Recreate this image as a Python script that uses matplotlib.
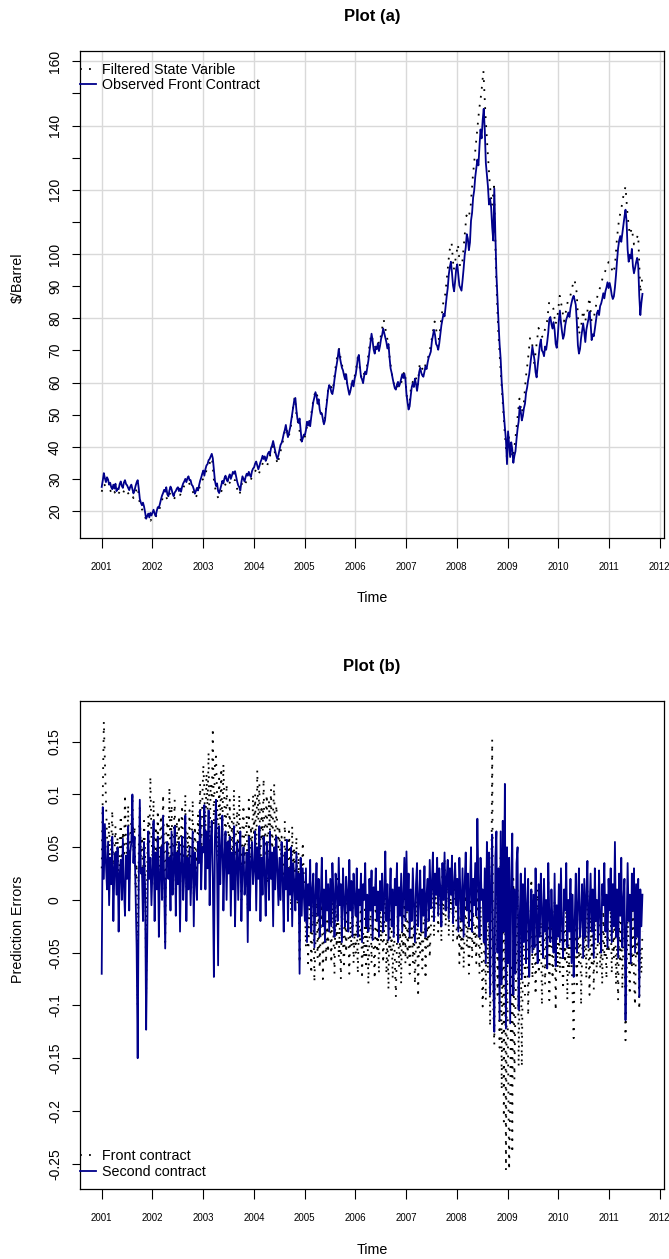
import numpy as np
import matplotlib
matplotlib.use("Agg")
import matplotlib.pyplot as plt

plt.rcParams['font.family'] = ['Liberation Sans', 'DejaVu Sans']

# plot (a): weekly observed front contract, $/barrel, Jan 2001 - Aug 2011
observed_front = [
    27.5, 29.5, 31.8, 30.2, 29.0, 30.5, 29.8, 28.2, 28.8, 27.4, 26.8, 28.2, 27.0, 28.5, 26.2, 27.0, 26.8, 28.4, 29.2, 27.8, 27.2, 28.9, 29.6, 28.4,
    28.0, 27.2, 26.5, 27.6, 28.2, 26.9, 25.5, 26.4, 27.8, 28.9, 29.6, 27.0, 23.8, 22.6, 21.8, 22.6, 21.4, 19.6, 17.6, 18.4, 19.2, 18.0, 19.4, 18.6,
    19.5, 20.4, 19.2, 18.4, 20.0, 21.2, 21.0, 22.2, 23.6, 24.8, 25.6, 26.6, 26.0, 27.4, 25.2, 24.6, 26.4, 27.6, 26.8, 25.4, 24.6, 25.8, 26.2, 27.0,
    27.4, 26.2, 27.0, 26.0, 27.6, 28.6, 29.2, 30.0, 29.0, 30.2, 30.8, 29.6, 29.6, 28.2, 27.8, 26.8, 25.4, 26.2, 27.2, 26.4, 28.0, 29.4, 30.4, 31.6,
    32.6, 31.0, 33.0, 34.2, 34.6, 35.8, 36.2, 37.0, 37.8, 36.4, 33.0, 29.4, 27.8, 28.6, 26.2, 25.6, 26.8, 28.0, 29.4, 28.6, 30.2, 31.0, 29.8, 29.2,
    30.6, 31.4, 30.0, 31.0, 32.2, 31.6, 32.4, 30.8, 29.2, 28.0, 27.4, 26.4, 29.0, 30.8, 30.0, 29.2, 30.6, 31.6, 31.0, 32.2, 31.2, 30.6, 32.4, 33.2,
    33.6, 34.8, 35.4, 34.2, 33.0, 34.0, 35.2, 36.0, 37.2, 36.2, 37.0, 35.6, 36.4, 37.8, 38.4, 37.6, 39.6, 40.4, 41.8, 40.2, 38.6, 37.2, 36.2, 37.4,
    39.0, 40.6, 41.2, 42.4, 44.0, 45.2, 46.8, 44.6, 43.0, 44.4, 45.8, 48.0, 50.2, 52.6, 54.6, 55.2, 51.4, 48.6, 47.4, 48.8, 45.2, 41.6, 42.6, 43.8,
    43.6, 45.2, 47.8, 46.6, 48.0, 46.4, 49.2, 51.6, 54.0, 55.4, 57.0, 55.8, 53.4, 54.8, 51.6, 50.2, 50.4, 48.6, 47.0, 48.2, 51.6, 54.4, 57.6, 59.2,
    58.6, 57.0, 56.4, 58.2, 61.0, 63.4, 65.4, 67.6, 70.4, 68.0, 66.2, 64.6, 63.8, 62.2, 61.0, 62.6, 59.6, 57.8, 56.2, 57.4, 59.0, 60.6, 58.8, 61.2,
    62.4, 64.8, 67.6, 68.6, 65.0, 61.8, 61.0, 59.8, 62.0, 63.4, 62.6, 64.6, 66.8, 69.6, 72.4, 75.2, 73.0, 70.2, 69.0, 71.2, 70.4, 72.2, 69.8, 71.4,
    73.6, 74.8, 76.8, 75.4, 74.0, 72.6, 70.6, 72.0, 67.8, 64.4, 63.0, 61.2, 59.6, 58.2, 57.8, 59.4, 60.2, 58.8, 59.8, 61.2, 62.6, 61.4, 62.8, 61.0,
    56.4, 53.8, 51.6, 52.6, 55.8, 58.6, 59.8, 58.6, 61.2, 59.6, 57.4, 59.8, 63.2, 64.6, 63.0, 62.2, 61.8, 63.4, 65.0, 64.2, 66.2, 67.8, 68.6, 69.6,
    72.8, 74.6, 76.4, 74.8, 72.0, 71.4, 70.2, 72.2, 75.0, 77.8, 79.6, 81.4, 80.6, 83.8, 86.8, 89.4, 93.6, 96.0, 97.6, 94.2, 90.2, 88.4, 91.6, 95.4,
    96.8, 93.6, 90.2, 89.4, 88.6, 91.8, 95.4, 99.6, 102.0, 106.2, 104.8, 101.2, 103.6, 110.4, 112.8, 117.6, 119.8, 124.0, 126.6, 129.4, 127.6, 133.6, 138.8, 136.0,
    141.6, 145.2, 138.6, 128.4, 124.6, 121.0, 115.4, 117.2, 114.6, 108.4, 104.2, 120.4, 106.0, 93.8, 86.2, 78.6, 72.0, 67.4, 60.2, 55.6, 50.4, 46.0, 42.2, 34.6,
    44.8, 40.6, 36.8, 41.4, 39.2, 35.0, 37.2, 38.6, 42.4, 45.6, 47.8, 52.6, 51.0, 48.2, 49.6, 52.0, 53.4, 56.8, 58.4, 60.8, 62.6, 65.4, 68.4, 71.2,
    69.2, 67.0, 63.2, 61.6, 65.2, 68.4, 71.6, 73.4, 70.0, 69.4, 68.2, 71.2, 70.2, 72.6, 75.6, 79.8, 80.4, 78.2, 76.8, 78.8, 76.4, 72.0, 70.8, 74.4,
    79.6, 82.4, 78.6, 75.8, 73.6, 74.8, 77.8, 79.6, 80.6, 81.8, 80.4, 83.2, 84.8, 86.2, 87.0, 85.6, 84.2, 78.8, 71.6, 69.0, 70.4, 73.8, 76.2, 78.4,
    75.8, 72.6, 76.4, 78.2, 79.8, 82.0, 78.6, 73.2, 75.0, 74.4, 76.6, 79.2, 81.6, 82.4, 81.0, 83.8, 84.6, 86.0, 87.8, 86.2, 88.4, 89.6, 91.2, 89.4,
    91.0, 89.4, 87.2, 86.0, 86.8, 89.6, 93.4, 98.0, 101.8, 104.2, 105.6, 103.8, 106.4, 109.2, 111.6, 113.8,
    110.2, 101.4, 97.6, 99.8, 98.6, 101.6, 96.2, 94.0, 95.6, 97.4, 98.8, 96.6, 87.0, 81.0, 84.8, 87.6,
]
# plot (a): half-monthly filtered state, $/barrel
filtered_state = [
    26.0, 28.5, 27.5, 27.5, 26.5, 25.0, 26.0, 24.5, 25.5, 26.5, 25.5, 27.0, 26.0, 25.0, 25.5, 24.0, 26.0, 27.5, 22.0, 20.5, 19.5, 17.0, 17.5, 17.0,
    18.0, 17.5, 19.0, 20.0, 22.5, 24.5, 25.0, 23.5, 25.5, 24.5, 23.5, 25.0, 25.5, 25.0, 26.5, 28.0, 28.0, 29.0, 27.5, 26.0, 24.0, 25.0, 27.0, 29.5,
    30.0, 32.0, 33.5, 35.0, 36.5, 29.0, 25.5, 24.0, 25.5, 27.0, 28.5, 27.5, 29.0, 28.5, 30.0, 29.5, 26.5, 25.0, 28.5, 27.5, 29.0, 29.5, 29.0, 31.0,
    32.0, 33.0, 31.5, 33.0, 35.0, 34.0, 34.0, 36.5, 38.5, 40.5, 37.0, 34.5, 38.0, 40.0, 44.0, 46.0, 43.0, 45.0, 51.0, 55.5, 49.0, 46.5, 41.5, 42.0,
    43.5, 47.0, 47.0, 51.0, 55.5, 57.5, 55.0, 51.5, 49.5, 47.0, 53.5, 59.0, 59.0, 57.5, 63.5, 68.0, 70.5, 66.0, 64.0, 62.0, 58.5, 57.0, 60.0, 61.0,
    64.5, 69.0, 62.5, 61.0, 63.5, 64.5, 70.0, 75.0, 73.0, 71.0, 73.0, 72.0, 76.0, 79.5, 76.0, 72.5, 66.5, 62.0, 59.0, 58.0, 59.5, 59.0, 62.5, 63.5,
    54.5, 52.5, 59.5, 60.5, 62.0, 59.0, 66.0, 64.5, 63.5, 66.5, 68.0, 71.0, 75.0, 79.0, 75.5, 73.5, 79.0, 84.5, 87.5, 94.0, 101.0, 103.5, 95.0, 99.0,
    103.0, 96.0, 97.0, 104.5, 112.0, 111.0, 115.0, 124.0, 131.0, 138.0, 145.0, 150.0, 157.0, 143.0, 132.0, 122.0, 115.0, 121.0, 93.0, 76.0, 65.0, 55.0, 45.0, 37.0,
    43.0, 39.0, 36.5, 42.0, 48.5, 55.0, 50.5, 53.0, 61.5, 67.0, 74.0, 72.0, 66.0, 71.5, 77.0, 75.0, 74.0, 76.5, 79.0, 85.0, 84.5, 83.0, 78.0, 81.0,
    87.0, 83.5, 79.0, 82.5, 86.0, 87.0, 90.0, 92.0, 88.0, 75.0, 77.0, 82.5, 79.0, 82.0, 86.5, 79.0, 80.0, 83.5, 88.0, 89.5, 92.0, 94.0, 95.5, 97.5,
    97.0, 94.0, 96.0, 105.0, 111.0, 114.0, 118.0, 121.0, 112.0, 106.0, 108.0, 103.0, 104.5, 106.0, 88.0, 93.0,
]

# plot (b): weekly prediction errors, in thousandths
front_err_milli = [
    30, 100, 169, 130, 95, 60, 40, 75, 20, 55, 85, 10, 45, 70, 30, 60, 5, 50, 80, 25, 65, 40, 100, 55,
    30, 90, 20, 60, 75, 100, 45, 70, 15, 35, -100, 50, 90, 40, 60, 10, 75, 45, -90, 30, 80, 55, 117, 60,
    40, 95, 15, 70, 35, 85, 5, 60, 80, 30, 100, 45, -40, 65, 75, 40, 107, 20, 90, 35, 60, 95, 10, 75,
    35, 80, 0, 60, 90, 25, 50, 100, 10, 65, 40, 85, 20, 55, 95, 5, 70, 45, 30, 80, 60, 110, 35, 90,
    128, 105, 60, 120, 85, 140, 50, 110, 95, 163, 70, 130, 136, 100, 40, 115, 75, 125, 60, 129, 90, 45, 110, 80,
    50, 95, 20, 75, 40, 105, 10, 65, 85, 30, 100, 55, 0, 70, 90, 35, 60, 80, -10, 95, 25, 70, 45, 100,
    60, 100, 30, 123, 75, 110, 20, 90, 55, 115, 40, 80, 100, 15, 95, 65, 105, 35, 85, 110, 25, 90, 70, 50,
    70, 20, 60, 35, -5, 75, 30, 55, 0, 65, 40, -10, 70, 25, 50, 15, 60, -5, 45, -60, 30, 10, 55, 20,
    0, -45, 15, -60, -20, 10, -70, -30, -5, -78, -40, 20, -55, -15, -65, -25, 5, -75, -35, -10, -60, -20, -50, 0,
    -15, -60, 15, -35, -70, -5, -45, 20, -55, -25, -75, 0, -40, -65, -10, -50, 10, -30, -70, -20, -45, 5, -60, -30,
    -50, -10, -70, -25, -40, 10, -75, -30, -55, -5, -65, -20, -80, -35, 0, -60, -15, -45, -75, 15, -50, -25, -70, -10,
    -40, -15, -60, -25, 20, -70, -35, -85, -10, -50, -30, -75, -20, -55, -92, -40, -5, -65, -30, -80, -15, -50, 10, -60,
    15, -55, -20, -70, -35, -10, -60, -25, -80, -40, 0, -92, -30, -50, -15, -65, -35, 5, -75, -20, -45, -5, -55, -25,
    -20, 25, -35, 10, -5, 35, -30, 15, 0, -40, 30, -15, 40, -25, 5, 30, -35, 20, -10, 35, -40, 0, 25, -20,
    -40, 0, -60, -15, -50, 10, -65, -30, 5, -45, -20, -70, -35, 15, -55, -10, -45, -25, -60, 30, -30, -70, -5, -50,
    -101, -60, -20, -95, 40, -70, 10, -120, -40, 152, -100, -137, -10, 20, -90, -30, -140, 40, -180, 50, -210, 80, -256, -40,
    -150, -256, -200, -60, -240, 20, -170, -100, -50, 10, -158, -80, -30, -158, -60, -20, -90, -45, 0, -110, -55, -30, 20, -75,
    -50, -15, -90, -35, 10, -70, -45, -20, -100, -55, 5, -80, -30, -60, 20, -95, -40, -10, -75, -50, 0, -105, -35, -65,
    -25, -70, 5, -50, -85, -30, -60, -10, -95, -40, -70, 10, -55, -90, -131, -45, -20, -80, -35, -60, -5, -100, -50, -30,
    -55, -20, -75, 10, -40, -90, -15, -60, -30, -85, -5, -50, -70, -25, 5, -65, -45, -80, -10, -55, -35, -75, -20, -50,
    -40, -10, -70, -30, -55, 15, -80, -45, -95, -20, -60, -5, -85, -40, -25, -133, -70, -15, -50, -90, -30, -65, -10, -75,
    -100, -35, -55, -20, -104, -45, -70, -30,
]
second_err_milli = [
    -70, 88, 20, 72, 35, 10, 55, -5, 40, 15, 60, -20, 30, 45, 5, 50, -30, 25, 38, 0, 58, 12, -15, 42,
    20, 70, -10, 45, 55, 100, 35, 60, 5, -45, -150, 15, 95, 25, 30, -20, 55, 10, -123, -40, 65, 20, 40, -5,
    30, 75, -20, 45, 10, 60, -35, 25, 50, 0, 80, 15, -46, 35, 55, 20, 40, -10, 65, 5, 30, 70, -15, 45,
    15, 55, -30, 35, 60, 0, 25, 80, -20, 40, 10, 50, -5, 30, 65, -25, 45, 20, 0, 55, 35, 85, 10, 50,
    45, 90, 10, 65, 30, 85, -5, 55, 75, 20, -73, 60, 95, 35, -62, 70, 15, 50, 80, -10, 40, 65, 0, 55,
    25, 60, -15, 45, 10, 70, -25, 35, 55, 0, 40, 65, -20, 30, 50, 5, 20, 45, -40, 60, -10, 35, 55, 15,
    30, 65, -10, 50, 20, 70, -20, 40, 5, 60, 25, -15, 55, 35, 0, 65, 20, 45, -25, 50, 10, 60, 30, -5,
    40, 0, 55, 20, -30, 45, 10, 57, -20, 30, 5, 50, -25, 35, 15, -10, 45, 0, 25, -70, 40, -15, 30, 5,
    -20, 30, -40, 15, -5, 38, -30, 10, 25, -45, 5, 35, -15, 20, -35, 0, 40, -25, 10, -40, 28, -10, 15, -30,
    20, -25, 35, 5, -35, 25, 10, -20, 40, -5, 15, -40, 30, 0, -25, 22, 8, -30, 38, -10, 18, -35, 25, 0,
    -15, 30, -35, 10, -5, 25, -40, 15, 0, 35, -25, 5, -30, 20, -10, 28, -38, 12, -5, 30, -20, 8, -35, 18,
    -10, 25, -30, 5, 46, -20, 15, -38, 0, 30, -25, 10, -35, 20, -5, 35, -40, 12, -15, 25, -30, 5, 40, -20,
    46, -10, 25, -35, 10, -20, 30, -5, -40, 15, 35, -25, 0, 28, -30, 10, -15, 32, -35, 5, 20, -20, 38, -8,
    15, 45, -20, 25, 5, 40, -15, 30, 10, -25, 35, 0, 45, -10, 20, 38, -18, 30, 5, 42, -22, 15, 35, -5,
    20, -30, 40, 5, -20, 30, -35, 15, 45, -10, 25, -25, 10, 50, -30, 20, -5, 35, -15, 77, 15, -35, 40, 0,
    10, -40, 30, -60, 55, -20, 45, -90, 20, 62, -70, -125, 40, 65, -50, 30, -114, 65, -80, 75, -30, 110, -122, 50,
    -60, 40, -117, 20, 63, -90, 10, -70, 35, 50, -104, -20, 25, -75, 15, -40, 30, -60, -5, 20, -73, -25, 10, -50,
    5, -45, 30, -20, -60, 15, -35, 25, -10, -55, 20, -30, 0, -65, 35, -15, -40, 10, -25, -50, 25, -63, -5, -35,
    15, -40, 30, -25, -55, 10, -10, 35, -45, 0, -30, 20, -60, 5, -73, -20, 25, -50, -5, 30, -35, -15, 15, -55,
    20, -35, 5, 37, -45, -10, 25, -30, 10, -55, 30, -20, 0, -40, 28, -15, -50, 15, -5, 35, -30, 5, -45, 20,
    -10, 30, -40, 15, -25, 55, -35, 10, -55, 25, -15, 40, -45, 0, 20, -114, -30, 35, -20, 5, -60, 25, -10, 30,
    -50, 15, -35, 20, -92, 10, -25, 5,
]

years = list(range(2001, 2013))
price_ticks = list(range(20, 161, 10))
price_labels = ['20', '30', '40', '50', '60', '70', '80', '90', '100', '', '120', '', '140', '', '160']
err_ticks = [-0.25, -0.2, -0.15, -0.1, -0.05, 0, 0.05, 0.1, 0.15]
err_labels = ['-0.25', '-0.2', '-0.15', '-0.1', '-0.05', '0', '0.05', '0.1', '0.15']

start, end = 2001.0, 2011.66
blue = 'darkblue'
dots = (0, (1, 4))

W, H = 669, 1259
fig = plt.figure(figsize=(W / 100, H / 100), dpi=100)
ax1 = fig.add_axes([80 / W, 1 - 538 / H, 584 / W, 487.3 / H])
ax2 = fig.add_axes([80 / W, 1 - 1189 / H, 584 / W, 488 / H])

# ---- plot (a)
for g in range(20, 161, 20):
    ax1.axhline(g, color='#d9d9d9', lw=1.0, zorder=0)
for yr in years:
    ax1.axvline(yr, color='#d9d9d9', lw=1.0, zorder=0)
ax1.plot(np.linspace(start, end, len(filtered_state)), filtered_state, color='black',
         lw=1.3, linestyle=dots, label='Filtered State Varible', zorder=2)
ax1.plot(np.linspace(start, end, len(observed_front)), observed_front, color=blue,
         lw=1.3, label='Observed Front Contract', zorder=3)
ax1.set_xlim(2000.572, 2012.085)
ax1.set_ylim(11.6, 163.3)
ax1.set_yticks(price_ticks)
ax1.set_yticklabels(price_labels, rotation=90, va='center')
ax1.legend(loc='upper left', bbox_to_anchor=(0, 1 - 12 / 487.3), frameon=False,
           fontsize=10.3, borderpad=0, borderaxespad=0, handlelength=1.15,
           handletextpad=0.42, labelspacing=0.12)

# ---- plot (b)
ax2.plot(np.linspace(start, end, len(front_err_milli)), np.array(front_err_milli) / 1000.0,
         color='black', lw=1.3, linestyle=dots, label='Front contract', zorder=2)
ax2.plot(np.linspace(start, end, len(second_err_milli)), np.array(second_err_milli) / 1000.0,
         color=blue, lw=1.3, label='Second contract', zorder=3)
ax2.set_xlim(2000.572, 2012.085)
ax2.set_ylim(-0.274, 0.1886)
ax2.set_yticks(err_ticks)
ax2.set_yticklabels(err_labels, rotation=90, va='center')
ax2.legend(loc='lower left', bbox_to_anchor=(0, 10 / 488), frameon=False,
           fontsize=10.3, borderpad=0, borderaxespad=0, handlelength=1.15,
           handletextpad=0.42, labelspacing=0.12)

for ax in (ax1, ax2):
    ax.set_xticks(years)
    ax.set_xticklabels([str(y) for y in years], fontsize=7)
    ax.tick_params(axis='x', length=7, width=0.8, pad=10)
    ax.tick_params(axis='y', length=6, width=0.8, pad=7, labelsize=10)
    for s in ax.spines.values():
        s.set_linewidth(0.9)

fig.text(372 / W, 1 - 16.5 / H, 'Plot (a)', ha='center', va='center', fontsize=12, fontweight='bold')
fig.text(372 / W, 1 - 667 / H, 'Plot (b)', ha='center', va='center', fontsize=12, fontweight='bold')
fig.text(372 / W, 1 - 598.5 / H, 'Time', ha='center', va='center', fontsize=10.3)
fig.text(372 / W, 1 - 1249.5 / H, 'Time', ha='center', va='center', fontsize=10.3)
fig.text(18 / W, 1 - 278 / H, '$/Barrel', ha='center', va='center', rotation=90, fontsize=10.3)
fig.text(18 / W, 1 - 929 / H, 'Prediction Errors', ha='center', va='center', rotation=90, fontsize=10.3)

fig.savefig('out.png', dpi=100)
